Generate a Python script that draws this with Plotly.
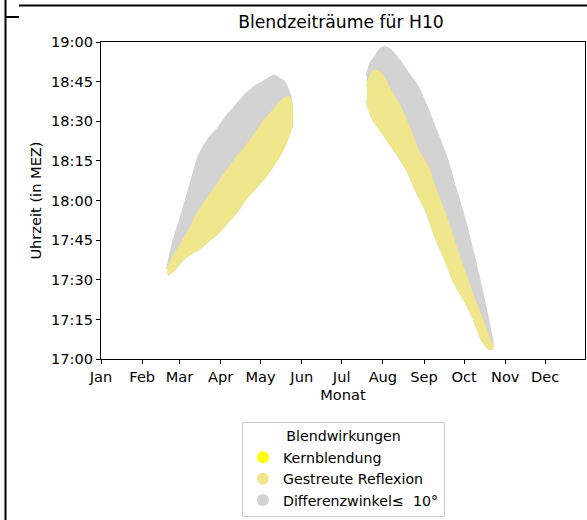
import plotly.graph_objects as go

# ---------------- data ----------------
spring_dates = ["2023-02-20", "2023-02-25", "2023-03-02", "2023-03-09", "2023-03-16",
                "2023-03-23", "2023-03-30", "2023-04-06", "2023-04-13", "2023-04-20",
                "2023-04-27", "2023-05-04", "2023-05-11", "2023-05-18", "2023-05-22",
                "2023-05-24"]
spring_grey_top = ["17:34", "17:45", "17:53", "18:05", "18:17", "18:23", "18:27", "18:32",
                   "18:36", "18:40", "18:43", "18:45", "18:47", "18:45", "18:41", "18:37"]
spring_yellow_top = ["17:34", "17:39", "17:43", "17:49", "17:56", "18:01", "18:06", "18:11",
                     "18:16", "18:20", "18:25", "18:30", "18:34", "18:38", "18:39", "18:37"]
spring_yellow_bottom = ["17:32", "17:34", "17:37", "17:40", "17:42", "17:45", "17:48", "17:52",
                        "17:56", "18:01", "18:05", "18:09", "18:14", "18:20", "18:25", "18:28"]

autumn_dates = ["2023-07-20", "2023-07-23", "2023-07-26", "2023-07-30", "2023-08-02",
                "2023-08-06", "2023-08-13", "2023-08-20", "2023-08-27", "2023-09-03",
                "2023-09-10", "2023-09-17", "2023-09-24", "2023-10-01", "2023-10-08",
                "2023-10-15", "2023-10-20", "2023-10-22"]
autumn_grey_top = ["18:47", "18:52", "18:54", "18:57", "18:58", "18:57", "18:53", "18:48",
                   "18:43", "18:35", "18:26", "18:17", "18:05", "17:53", "17:39", "17:24",
                   "17:12", "17:07"]
autumn_yellow_top = ["18:43", "18:47", "18:49", "18:48", "18:46", "18:42", "18:36", "18:28",
                     "18:19", "18:13", "18:03", "17:54", "17:43", "17:33", "17:23", "17:14",
                     "17:07", "17:05"]
autumn_yellow_bottom = ["18:38", "18:33", "18:30", "18:27", "18:25", "18:22", "18:17", "18:11",
                        "18:03", "17:56", "17:46", "17:38", "17:29", "17:23", "17:16", "17:07",
                        "17:04", "17:04"]

y_tick_vals = ["17:00", "17:15", "17:30", "17:45", "18:00", "18:15", "18:30", "18:45", "19:00"]

legend_names = ["Kernblendung", "Gestreute Reflexion", "Differenzwinkel\u2264  10°"]
legend_colors = ["#ffff00", "#f0e68c", "#d3d3d3"]

FONT = "DejaVu Sans"
FS = 14.6
LFS = 14.2


def hrs(t):
    h, m = t.split(":")
    return int(h) + int(m) / 60.0


def band(dates, top, bottom):
    xs = list(dates) + list(reversed(dates))
    ys = [hrs(t) for t in top] + [hrs(t) for t in reversed(bottom)]
    return xs, ys


fig = go.Figure()

# grey regions (Differenzwinkel) underneath
for d, top, bot in [(spring_dates, spring_grey_top, spring_yellow_bottom),
                    (autumn_dates, autumn_grey_top, autumn_yellow_bottom)]:
    xs, ys = band(d, top, bot)
    fig.add_trace(go.Scatter(x=xs, y=ys, mode="lines", fill="toself",
                             fillcolor=legend_colors[2],
                             line=dict(color=legend_colors[2], width=3, shape="spline",
                                       smoothing=0.5),
                             hoverinfo="skip", showlegend=False))

# khaki regions (Gestreute Reflexion) on top
for d, top, bot in [(spring_dates, spring_yellow_top, spring_yellow_bottom),
                    (autumn_dates, autumn_yellow_top, autumn_yellow_bottom)]:
    xs, ys = band(d, top, bot)
    fig.add_trace(go.Scatter(x=xs, y=ys, mode="lines", fill="toself",
                             fillcolor=legend_colors[1],
                             line=dict(color=legend_colors[1], width=3, shape="spline",
                                       smoothing=0.5),
                             hoverinfo="skip", showlegend=False))

# legend entries
for name, col in zip(legend_names, legend_colors):
    fig.add_trace(go.Scatter(x=[None], y=[None], mode="markers", name=name,
                             marker=dict(color=col, size=11)))

# plot area: left 101, right 585, top 42, bottom 359 (px)
W, H = 587, 520
L, R, T, B = 101, 585, 42, 359
pw, ph = R - L, B - T


def px(xp):
    return (xp - L) / pw


def py(yp):
    return (B - yp) / ph


axis_common = dict(showline=True, linecolor="black", linewidth=1, mirror=True,
                   ticks="outside", ticklen=4, tickcolor="black", showgrid=False,
                   zeroline=False, automargin=False,
                   tickfont=dict(family=FONT, size=FS, color="black"))

fig.update_layout(
    width=W, height=H,
    margin=dict(l=L, r=W - R, t=T, b=H - B, autoexpand=False),
    paper_bgcolor="white", plot_bgcolor="white",
    font=dict(family=FONT, color="black"),
    title=dict(text="Blendzeiträume für H10", x=341 / W, xanchor="center",
               y=1 - 22 / H, yanchor="middle",
               font=dict(family=FONT, size=17.2, color="black")),
    xaxis=dict(type="date", range=["2023-01-01", "2023-12-31"], dtick="M1",
               tick0="2023-01-01", tickformat="%b",
               title=dict(text="Monat", font=dict(family=FONT, size=FS), standoff=6),
               **axis_common),
    yaxis=dict(range=[17, 19], tickvals=[hrs(t) for t in y_tick_vals], ticktext=y_tick_vals,
               title=dict(text="Uhrzeit (in MEZ)", font=dict(family=FONT, size=FS), standoff=5),
               **axis_common),
    legend=dict(x=px(343.5), xanchor="center", y=py(422), yanchor="top",
                bgcolor="white", bordercolor="#cccccc", borderwidth=1,
                font=dict(family=FONT, size=LFS, color="black"),
                title=dict(text="Blendwirkungen", side="top center",
                           font=dict(family=FONT, size=LFS)),
                itemsizing="constant", tracegroupgap=0),
    showlegend=True,
)

# frame lines of the screenshot (outside the axes)
frame = [
    (5.5, 0, 5.5, 520),
    (19, 5.5, 587, 5.5),
    (5.5, 17, 19, 17),
]
for x0, y0, x1, y1 in frame:
    fig.add_shape(type="line", xref="paper", yref="paper",
                  x0=px(x0), y0=py(y0), x1=px(x1), y1=py(y1),
                  line=dict(color="black", width=2))

fig.write_html(
    "out.html",
    config={"displayModeBar": False},
    post_script="document.body.style.margin='0px';document.body.style.padding='0px';"
                "document.body.style.overflow='hidden';",
)
